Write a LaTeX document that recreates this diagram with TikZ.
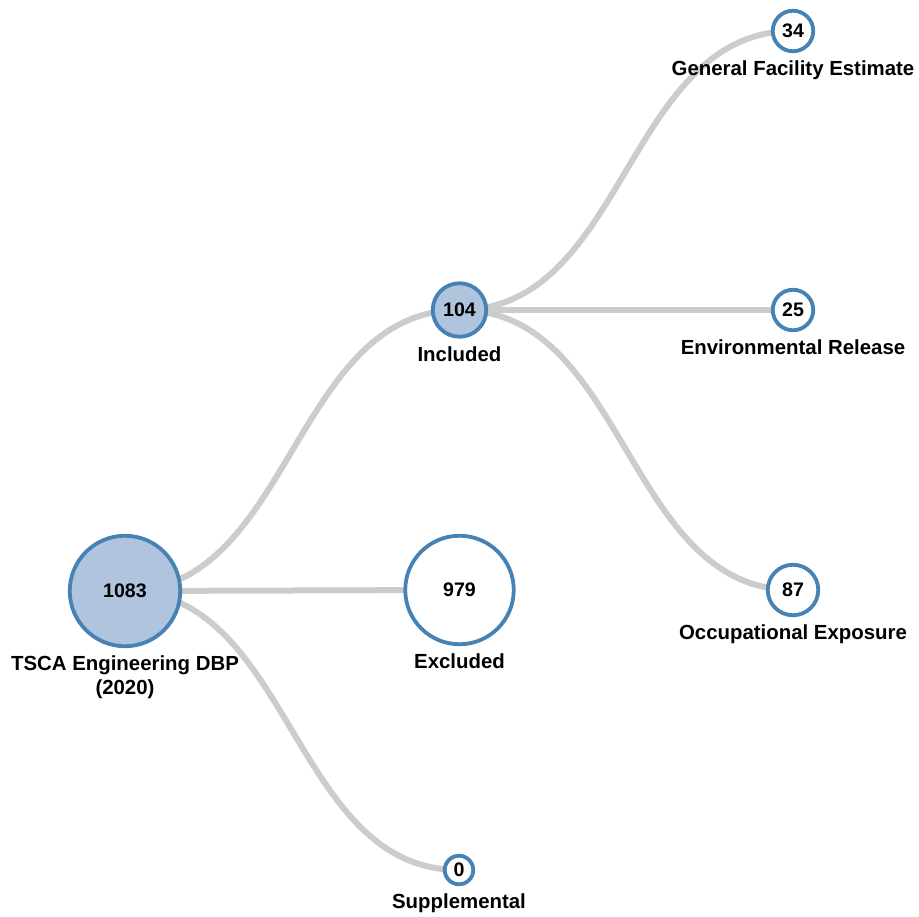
\documentclass[tikz,border=0pt]{standalone}
\usepackage{fontspec}
\setmainfont{Liberation Sans}
\usetikzlibrary{backgrounds}
\definecolor{steel}{HTML}{4682B4}
\definecolor{lsblue}{HTML}{B0C4DE}
\definecolor{linkgray}{HTML}{CCCCCC}
\tikzset{
  circnode/.style={circle, draw=steel, line width=3.8pt, inner sep=0pt, outer sep=0pt,
    font=\fontsize{19.6}{22}\selectfont\bfseries},
  fullnode/.style={circnode, fill=lsblue},
  opennode/.style={circnode, fill=white},
  lab/.style={anchor=base, inner sep=0pt, outer sep=0pt, align=center,
    font=\fontsize{20.4}{24}\selectfont\bfseries},
  link/.style={draw=linkgray, line width=6pt}
}
\begin{document}
\begin{tikzpicture}[x=1pt, y=-1pt]
\useasboundingbox (0,0) rectangle (919,917);
% nodes
\node[fullnode, minimum size=110.5pt] (n1083) at (125,591) {1083};
\node[opennode, minimum size=108.5pt] (n979) at (459.5,590) {979};
\node[fullnode, minimum size=53.5pt] (n104) at (459.5,310) {104};
\node[opennode, minimum size=28.5pt] (n0) at (459,870) {0};
\node[opennode, minimum size=40.5pt] (n34) at (793,31) {34};
\node[opennode, minimum size=40.5pt] (n25) at (793,310) {25};
\node[opennode, minimum size=50.5pt] (n87) at (793,590) {87};
% labels
\node[lab] (l1083) at ([yshift=-48.5pt]n1083.south) {TSCA Engineering DBP\\(2020)};
\node[lab] (l979) at ([yshift=-24.5pt]n979.south) {Excluded};
\node[lab] (l104) at ([yshift=-24.5pt]n104.south) {Included};
\node[lab] (l0) at ([yshift=-24.5pt]n0.south) {Supplemental};
\node[lab] (l34) at ([yshift=-24.5pt]n34.south) {General Facility Estimate};
\node[lab] (l25) at ([yshift=-24.5pt]n25.south) {Environmental Release};
\node[lab] (l87) at ([yshift=-24.5pt]n87.south) {Occupational Exposure};
% links
\begin{pgfonlayer}{background}
\draw[link] (n1083.center) .. controls +(167,0) and +(-167,0) .. (n104.center);
\draw[link] (n1083.center) -- (n979.center);
\draw[link] (n1083.center) .. controls +(167,0) and +(-167,0) .. (n0.center);
\draw[link] (n104.center) .. controls +(167,0) and +(-167,0) .. (n34.center);
\draw[link] (n104.center) -- (n25.center);
\draw[link] (n104.center) .. controls +(167,0) and +(-167,0) .. (n87.center);
\end{pgfonlayer}
\end{tikzpicture}
\end{document}
